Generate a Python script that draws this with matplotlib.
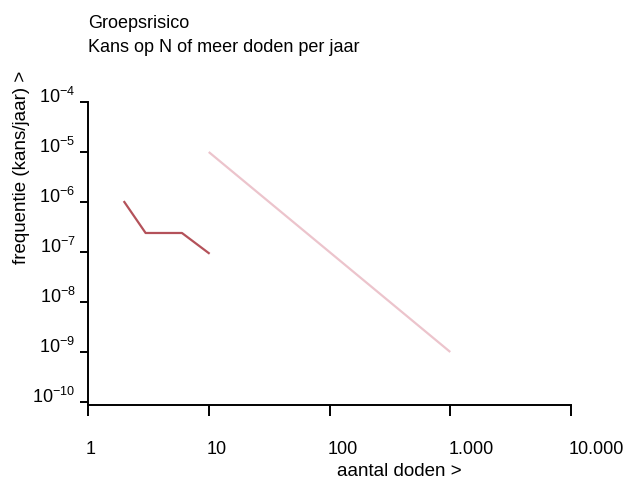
import matplotlib
matplotlib.use("Agg")
import matplotlib.pyplot as plt
from matplotlib.transforms import ScaledTranslation

plt.rcParams['font.family'] = ['Liberation Sans', 'DejaVu Sans']
plt.rcParams['mathtext.fontset'] = 'custom'
plt.rcParams['mathtext.rm'] = 'Liberation Sans'
plt.rcParams['mathtext.default'] = 'regular'

# groepsrisico (FN-curve)
fn_n = [2, 3, 6, 10]
fn_f = [1.0e-6, 2.4e-7, 2.4e-7, 9.5e-8]

# oriëntatiewaarde
ow_n = [10, 100, 1000]
ow_f = [1e-5, 1e-7, 1e-9]

x_ticks = [1, 10, 100, 1000, 10000]
x_labels = ["1", "10", "100", "1.000", "10.000"]
y_exps = [-4, -5, -6, -7, -8, -9, -10]

fig = plt.figure(figsize=(6.33, 4.82), dpi=100)
ax = fig.add_axes([88/633, 1 - 405/482, (571-88)/633, (405-102)/482])

ax.plot(ow_n, ow_f, color='#ecc4cc', lw=1.6, solid_capstyle='butt')
ax.plot(fn_n, fn_f, color='#b4525a', lw=1.6)

ax.set_xscale('log')
ax.set_yscale('log')
ax.set_xlim(1, 10000)
ax.set_ylim(10**-10.06, 1e-4)

ax.spines['top'].set_visible(False)
ax.spines['right'].set_visible(False)
ax.spines['left'].set_linewidth(1.4)
ax.spines['bottom'].set_linewidth(1.4)

ax.set_xticks(x_ticks)
ax.set_xticklabels(x_labels)
ax.set_yticks([10.0**e for e in y_exps])
ax.set_yticklabels(["10$^{%d}$" % e for e in y_exps])
ax.minorticks_off()
ax.tick_params(axis='x', length=8, width=1.4, pad=18, labelsize=13)
ax.tick_params(axis='y', length=6, width=1.4, pad=3, labelsize=13)

for lab in ax.get_xticklabels():
    lab.set_horizontalalignment('left')
    lab.set_transform(lab.get_transform() + ScaledTranslation(-2/100, 0, fig.dpi_scale_trans))
for lab in ax.get_yticklabels():
    lab.set_transform(lab.get_transform() + ScaledTranslation(0, 7/100, fig.dpi_scale_trans))

fig.text(88/633, 1 - 23/482, "Groepsrisico", fontsize=13, va='center', ha='left')
fig.text(88/633, 1 - 48/482, "Kans op N of meer doden per jaar", fontsize=13, va='center', ha='left')
fig.text(22/633, 1 - 167/482, "frequentie (kans/jaar) >", fontsize=13.5, rotation=90,
         va='center', ha='center')
fig.text(399/633, 1 - 472/482, "aantal doden >", fontsize=13.5, va='center', ha='center')

fig.savefig("out.png", dpi=100)
